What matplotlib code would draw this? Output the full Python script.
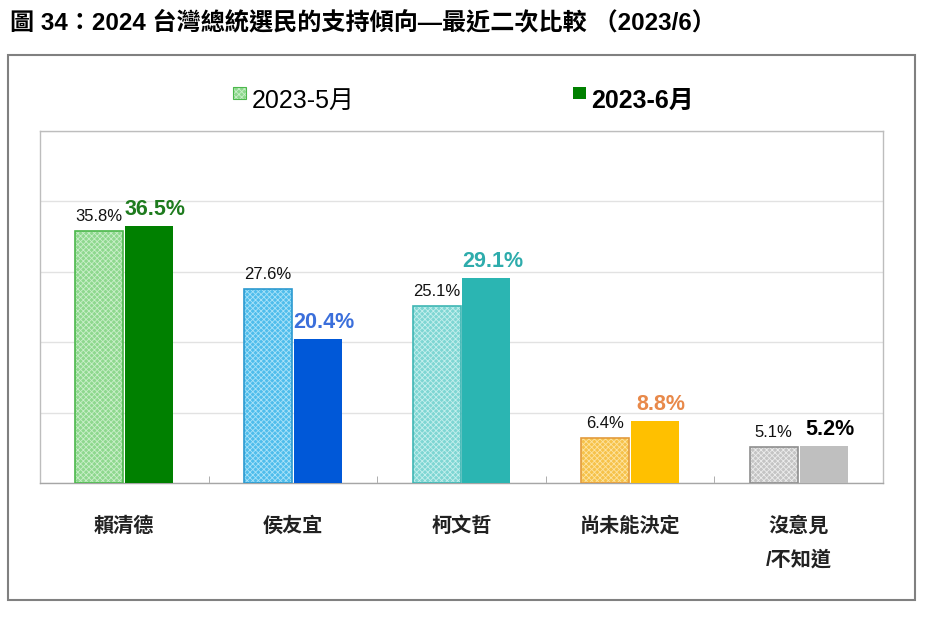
import matplotlib
matplotlib.use('Agg')
import matplotlib.pyplot as plt
from matplotlib.patches import Rectangle
import numpy as np

plt.rcParams['font.family'] = ['Liberation Sans', 'Noto Sans CJK TC', 'DejaVu Sans']
plt.rcParams['hatch.linewidth'] = 0.6

# 資料
categories = ['賴清德', '侯友宜', '柯文哲', '尚未能決定', '沒意見\n/不知道']
may_vals = [35.8, 27.6, 25.1, 6.4, 5.1]
jun_vals = [36.5, 20.4, 29.1, 8.8, 5.2]
series_names = ['2023-5月', '2023-6月']

may_fill = ['#8ed88e', '#4fbdec', '#7ed6d3', '#f6c24a', '#c4c4c4']
may_hatch = ['#c9efc9', '#a9e2f8', '#c4efed', '#fde3a0', '#ececec']
may_edge = ['#4cb84c', '#2c9ad0', '#3fb6b4', '#e39b3c', '#8f8f8f']
jun_fill = ['#008000', '#0058d8', '#2bb5b2', '#ffc000', '#bfbfbf']
jun_lab = ['#1e7b1e', '#3b6fdb', '#2eacac', '#e8894a', '#000000']

fig = plt.figure(figsize=(9.34, 6.2), dpi=100)

# 標題
fig.text(0.011, 0.963, '圖 34：2024 台灣總統選民的支持傾向—最近二次比較 （2023/6）',
         fontsize=17.4, fontweight='bold', va='center', ha='left')

# 外框
fig.patches.append(Rectangle((0.009, 0.032), 0.971, 0.879, transform=fig.transFigure,
                             fill=False, edgecolor='#808080', linewidth=1.5))

ax = fig.add_axes([0.0428, 0.221, 0.9026, 0.568])
x = np.arange(len(categories))
w = 0.285
off = 0.148

ax.bar(x - off, may_vals, w, color=may_fill, edgecolor=may_hatch, hatch='xxxxxx',
       linewidth=0, zorder=3)
ax.bar(x - off, may_vals, w, fill=False, edgecolor=may_edge, linewidth=1.2, zorder=4)
ax.bar(x + off, jun_vals, w, color=jun_fill, linewidth=0, zorder=3)

for i in range(len(categories)):
    ax.text(x[i] - off, may_vals[i] + 1.0, f'{may_vals[i]:.1f}%', ha='center', va='bottom',
            fontsize=12, color='#111111', zorder=5)
    ax.text(x[i] + off + 0.035, jun_vals[i] + 0.9, f'{jun_vals[i]:.1f}%', ha='center',
            va='bottom', fontsize=15.5, fontweight='bold', color=jun_lab[i], zorder=5)

ax.set_xlim(-0.5, len(categories) - 0.5)
ax.set_ylim(0, 50)
ax.set_yticks([0, 10, 20, 30, 40, 50])
ax.set_yticklabels([])
ax.tick_params(axis='y', length=0)
ax.grid(axis='y', color='#e2e2e2', linewidth=1, zorder=0)

ax.set_xticks(x)
ax.set_xticklabels(categories, fontsize=14.5, fontweight='bold', color='#222222',
                   linespacing=1.9, va='top')
ax.tick_params(axis='x', length=0, pad=24)
ax.set_xticks(np.arange(-0.5, len(categories)), minor=True)
ax.tick_params(axis='x', which='minor', length=5, color='#a0a0a0', direction='in')

for s in ['left', 'top', 'right']:
    ax.spines[s].set_color('#bdbdbd')
    ax.spines[s].set_linewidth(1)
ax.spines['bottom'].set_color('#a6a6a6')
ax.spines['bottom'].set_linewidth(1)

# 圖例
fig.patches.append(Rectangle((0.2495, 0.841), 0.0135, 0.019, transform=fig.transFigure,
                             facecolor=may_fill[0], edgecolor=may_hatch[0], hatch='xxxxxx',
                             linewidth=0))
fig.patches.append(Rectangle((0.2495, 0.841), 0.0135, 0.019, transform=fig.transFigure,
                             fill=False, edgecolor=may_edge[0], linewidth=0.8))
fig.text(0.270, 0.838, series_names[0], fontsize=18, va='center', ha='left')
fig.patches.append(Rectangle((0.6135, 0.841), 0.0135, 0.019, transform=fig.transFigure,
                             facecolor=jun_fill[0], linewidth=0))
fig.text(0.633, 0.838, series_names[1], fontsize=18, fontweight='bold', va='center', ha='left')

fig.savefig('out.png', dpi=100, facecolor='white')
